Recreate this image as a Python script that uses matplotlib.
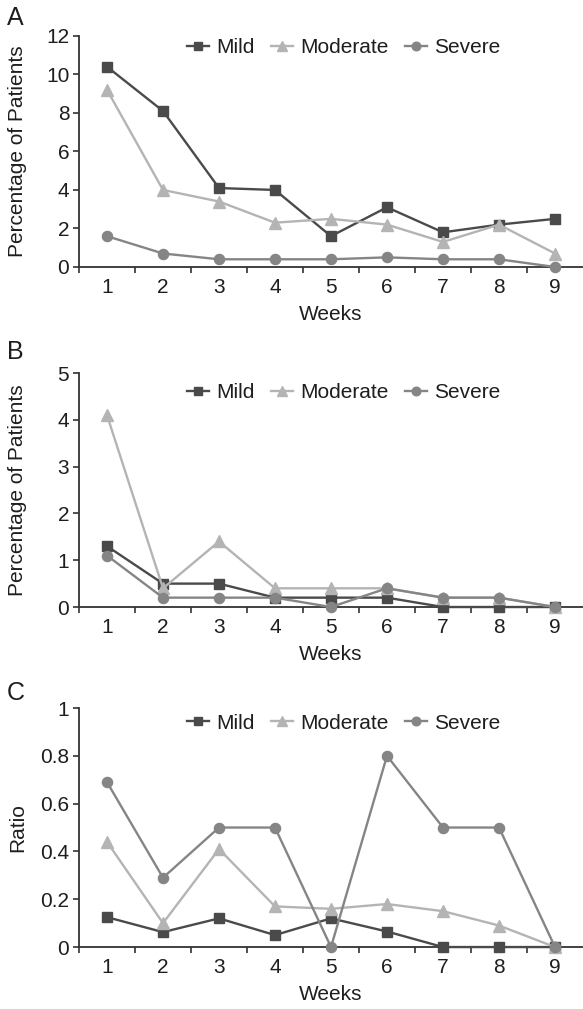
import matplotlib as mpl
mpl.use('Agg')
import matplotlib.pyplot as plt

plt.rcParams['font.family'] = ['Liberation Sans', 'DejaVu Sans']

weeks = [1, 2, 3, 4, 5, 6, 7, 8, 9]
series_names = ['Mild', 'Moderate', 'Severe']

# panel A: percentage of patients
a_mild = [10.4, 8.1, 4.1, 4.0, 1.6, 3.1, 1.8, 2.2, 2.5]
a_moderate = [9.2, 4.0, 3.4, 2.3, 2.5, 2.2, 1.3, 2.2, 0.7]
a_severe = [1.6, 0.7, 0.4, 0.4, 0.4, 0.5, 0.4, 0.4, 0.0]

# panel B: percentage of patients
b_mild = [1.3, 0.5, 0.5, 0.2, 0.2, 0.2, 0.0, 0.0, 0.0]
b_moderate = [4.1, 0.4, 1.4, 0.4, 0.4, 0.4, 0.2, 0.2, 0.0]
b_severe = [1.1, 0.2, 0.2, 0.2, 0.0, 0.4, 0.2, 0.2, 0.0]

# panel C: ratio
c_mild = [0.125, 0.0625, 0.12, 0.05, 0.12, 0.065, 0.0, 0.0, 0.0]
c_moderate = [0.44, 0.10, 0.41, 0.17, 0.16, 0.18, 0.15, 0.09, 0.0]
c_severe = [0.69, 0.29, 0.50, 0.50, 0.0, 0.80, 0.50, 0.50, 0.0]

colors = ['#4a4a4a', '#b4b4b4', '#858585']
markers = ['s', '^', 'o']
axcol = '#333333'
txtcol = '#1e1e1e'
fs = 15

fig = plt.figure(figsize=(5.83, 10.09), dpi=100)

panels = [
    # label, data, ymax, yticks, yticklabels, ylabel, rect, legend y, label y (px)
    ('A', [a_mild, a_moderate, a_severe], 12, [0, 2, 4, 6, 8, 10, 12], ['0', '2', '4', '6', '8', '10', '12'],
     'Percentage of Patients', [0.1355, 0.7354, 0.8645, 0.229], 0.95, 18),
    ('B', [b_mild, b_moderate, b_severe], 5, [0, 1, 2, 3, 4, 5], ['0', '1', '2', '3', '4', '5'],
     'Percentage of Patients', [0.1355, 0.3984, 0.8645, 0.2319], 0.915, 352),
    ('C', [c_mild, c_moderate, c_severe], 1, [0, 0.2, 0.4, 0.6, 0.8, 1], ['0', '0.2', '0.4', '0.6', '0.8', '1'],
     'Ratio', [0.1355, 0.0614, 0.8645, 0.2369], 0.937, 693),
]

for lab, data, ymax, yt, ytl, ylab, rect, legy, laby in panels:
    ax = fig.add_axes(rect)
    for vals, name, c, m in zip(data, series_names, colors, markers):
        ms = 9 if m == '^' else 7.3
        ax.plot(weeks, vals, color=c, marker=m, markersize=ms, linewidth=1.7,
                label=name, clip_on=False, zorder=3)
    ax.set_xlim(0.5, 9.5)
    ax.set_ylim(0, ymax)
    ax.set_yticks(yt)
    ax.set_yticklabels(ytl)
    ax.set_xticks(weeks)
    ax.set_xticks([x + 0.5 for x in range(0, 9)], minor=True)
    ax.tick_params(axis='x', which='major', length=0, pad=8, labelsize=fs, labelcolor=txtcol)
    ax.tick_params(axis='x', which='minor', length=4, width=1.2, color=axcol, direction='out')
    ax.tick_params(axis='y', length=4, width=1.2, color=axcol, labelsize=fs, labelcolor=txtcol, pad=3)
    for s in ['top', 'right']:
        ax.spines[s].set_visible(False)
    for s in ['left', 'bottom']:
        ax.spines[s].set_color(axcol)
        ax.spines[s].set_linewidth(1.3)
    ax.set_xlabel('Weeks', fontsize=fs, color=txtcol, labelpad=6)
    ax.set_ylabel(ylab, fontsize=fs, color=txtcol)
    ax.yaxis.set_label_coords(-0.103, 0.5)
    ax.legend(loc='center', bbox_to_anchor=(0.525, legy), ncol=3, frameon=False,
              fontsize=fs, handlelength=1.05, handletextpad=0.35, columnspacing=0.8,
              markerscale=0.85, labelcolor=txtcol)
    fig.text(7 / 583, 1 - laby / 1009, lab, fontsize=18, ha='left', va='center', color=txtcol)

fig.savefig('out.png', dpi=100)
